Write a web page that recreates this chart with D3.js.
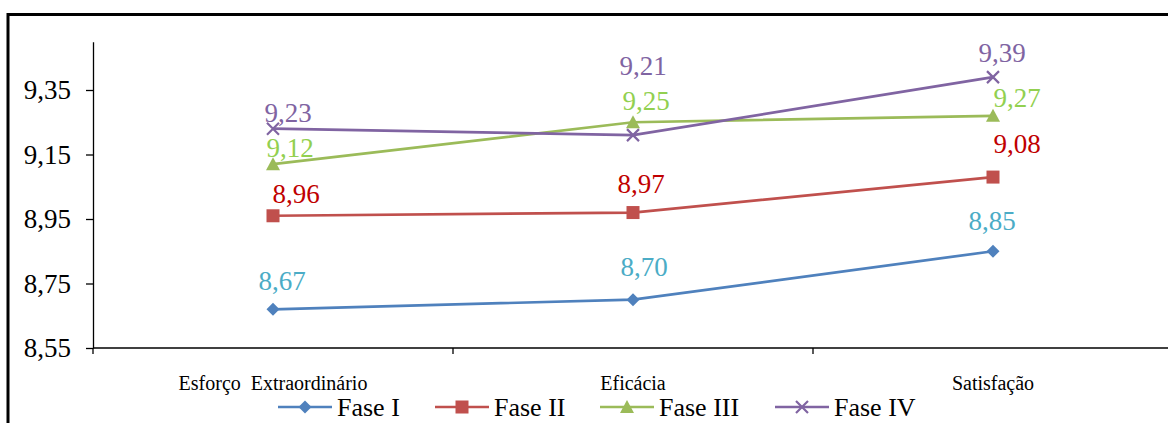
<!DOCTYPE html>
<html><head><meta charset="utf-8">
<script src="https://cdn.jsdelivr.net/npm/d3@7/dist/d3.min.js"></script>
<style>body{margin:0;background:#fff}svg{display:block;font-family:"Liberation Serif","Times New Roman",serif}svg text{font-family:"Liberation Serif","Times New Roman",serif}</style>
</head><body><svg id="c" width="1168" height="423"></svg>
<script>
const categories = ["Esforço  Extraordinário", "Eficácia", "Satisfação"];
const seriesNames = ["Fase I", "Fase II", "Fase III", "Fase IV"];
const faseI = [8.67, 8.70, 8.85];
const faseII = [8.96, 8.97, 9.08];
const faseIII = [9.12, 9.25, 9.27];
const faseIV = [9.23, 9.21, 9.39];
const yTicks = [8.55, 8.75, 8.95, 9.15, 9.35];
// label offsets (dx, dy) relative to point, px
const labelDx = [[9, 11, -1], [23, 8, 24], [17, 13, 24], [15, 10, 9]];
const labelDy = [[-19, -24, -21], [-13, -20, -24], [-7, -12, -9], [-7, -60, -15]];

const values = [faseI, faseII, faseIII, faseIV];
const lineColors = ["#4F81BD", "#C0504D", "#9BBB59", "#8064A2"];
const labelColors = ["#4BACC6", "#C00000", "#92D050", "#8064A2"];
const markers = ["diamond", "square", "triangle", "x"];

const svg = d3.select("#c");
const x0 = 93, yBottom = 348;
const x = d3.scaleBand().domain(categories).range([x0, x0 + 360 * 3]).paddingInner(0).paddingOuter(0);
const y = d3.scaleLinear().domain([8.55, 9.5]).range([yBottom, yBottom - 64.5 * 0.95 / 0.2]);
const cx = c => x(c) + x.bandwidth() / 2;

// frame
svg.append("line").attr("x1", 8).attr("x2", 1168).attr("y1", 14.5).attr("y2", 14.5).attr("stroke", "#000").attr("stroke-width", 3);
svg.append("line").attr("x1", 8).attr("x2", 8).attr("y1", 13).attr("y2", 423).attr("stroke", "#000").attr("stroke-width", 3);

// y axis
const yAxis = svg.append("g").attr("transform", `translate(${x0},0)`)
  .call(d3.axisLeft(y).tickValues(yTicks).tickSize(7).tickSizeOuter(0).tickFormat(d => d3.format(".2f")(d).replace(".", ",")));
yAxis.attr("font-family", null);
yAxis.select(".domain").attr("stroke-width", 1.3);
yAxis.selectAll(".tick line").attr("stroke-width", 1.3);
yAxis.selectAll("text").attr("font-size", 27).attr("fill", "#000").attr("x", -22).attr("dy", "0.33em");

// x axis
const xg = svg.append("g").attr("transform", `translate(0,${yBottom})`);
xg.append("line").attr("x1", x0).attr("x2", 1168).attr("stroke", "#000").attr("stroke-width", 1.3);
xg.selectAll("line.t").data([0, 1, 2, 3]).enter().append("line")
  .attr("x1", i => x0 + i * x.bandwidth()).attr("x2", i => x0 + i * x.bandwidth())
  .attr("y1", 0).attr("y2", 6).attr("stroke", "#000").attr("stroke-width", 1.3);
xg.selectAll("text").data(categories).enter().append("text")
  .attr("x", d => cx(d)).attr("y", 42).attr("text-anchor", "middle").attr("font-size", 20)
  .attr("xml:space", "preserve").style("white-space", "pre").text(d => d);

function drawMarker(g, type, color) {
  if (type === "diamond") g.append("path").attr("d", "M0,-6.5L6.5,0L0,6.5L-6.5,0Z").attr("fill", color);
  else if (type === "square") g.append("rect").attr("x", -6.5).attr("y", -6.5).attr("width", 13).attr("height", 13).attr("fill", color);
  else if (type === "triangle") g.append("path").attr("d", "M0,-7L7,6L-7,6Z").attr("fill", color);
  else g.append("path").attr("d", "M-6,-6L6,6M-6,6L6,-6").attr("stroke", color).attr("stroke-width", 2.2).attr("fill", "none");
}

const line = d3.line().x((d, i) => cx(categories[i])).y(d => y(d));
values.forEach((vals, s) => {
  svg.append("path").datum(vals).attr("d", line).attr("fill", "none")
    .attr("stroke", lineColors[s]).attr("stroke-width", 2.7);
});
values.forEach((vals, s) => {
  vals.forEach((v, i) => {
    const g = svg.append("g").attr("transform", `translate(${cx(categories[i])},${y(v)})`);
    drawMarker(g, markers[s], lineColors[s]);
  });
});
values.forEach((vals, s) => {
  vals.forEach((v, i) => {
    svg.append("text").attr("x", cx(categories[i]) + labelDx[s][i]).attr("y", y(v) + labelDy[s][i])
      .attr("text-anchor", "middle").attr("font-size", 27).attr("fill", labelColors[s])
      .text(d3.format(".2f")(v).replace(".", ","));
  });
});

// legend
const legX = [278, 435, 600, 775];
const legY = 407;
seriesNames.forEach((n, s) => {
  const g = svg.append("g").attr("transform", `translate(${legX[s]},${legY})`);
  g.append("line").attr("x1", 0).attr("x2", 54).attr("stroke", lineColors[s]).attr("stroke-width", 2.7);
  const m = g.append("g").attr("transform", "translate(27,0)");
  drawMarker(m, markers[s], lineColors[s]);
  g.append("text").attr("x", 59).attr("y", 9).attr("font-size", 26).attr("fill", "#000").text(n);
});
</script></body></html>
